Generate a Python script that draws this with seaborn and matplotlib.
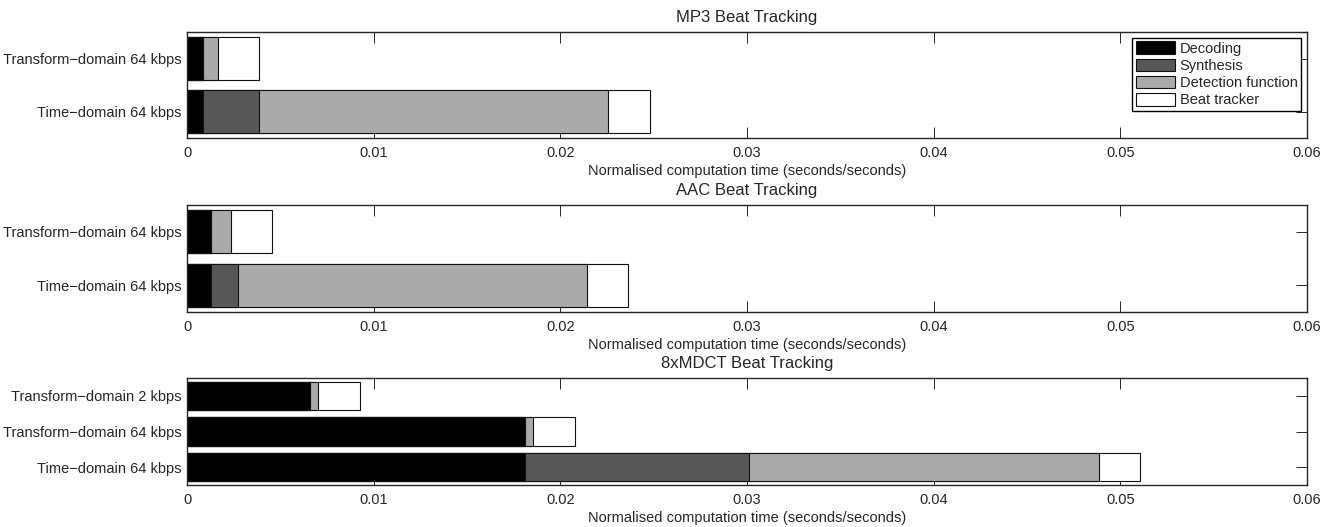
import numpy as np
import pandas as pd
import seaborn as sns
import matplotlib
matplotlib.use("Agg")
import matplotlib.pyplot as plt
from matplotlib.patches import Patch

# stages and colours
stages = ["Decoding", "Synthesis", "Detection function", "Beat tracker"]
stage_colors = ["#000000", "#575757", "#aaaaaa", "#ffffff"]

titles = ["MP3 Beat Tracking", "AAC Beat Tracking", "8xMDCT Beat Tracking"]

# categories (top to bottom)
mp3_cats = ["Transform\u2212domain 64 kbps", "Time\u2212domain 64 kbps"]
aac_cats = ["Transform\u2212domain 64 kbps", "Time\u2212domain 64 kbps"]
mdct_cats = ["Transform\u2212domain 2 kbps", "Transform\u2212domain 64 kbps", "Time\u2212domain 64 kbps"]

# per-stage times (seconds/seconds)
mp3_decoding = [0.00087, 0.00087]
mp3_synthesis = [0.0, 0.00300]
mp3_detection = [0.00081, 0.01871]
mp3_beat = [0.00219, 0.00221]

aac_decoding = [0.00127, 0.00127]
aac_synthesis = [0.0, 0.00148]
aac_detection = [0.00107, 0.01869]
aac_beat = [0.00221, 0.00221]

mdct_decoding = [0.00659, 0.01810, 0.01810]
mdct_synthesis = [0.0, 0.0, 0.01201]
mdct_detection = [0.00044, 0.00044, 0.01873]
mdct_beat = [0.00223, 0.00222, 0.00219]

panels = [
    (mp3_cats, [mp3_decoding, mp3_synthesis, mp3_detection, mp3_beat]),
    (aac_cats, [aac_decoding, aac_synthesis, aac_detection, aac_beat]),
    (mdct_cats, [mdct_decoding, mdct_synthesis, mdct_detection, mdct_beat]),
]

sns.set_style("ticks")
plt.rcParams['font.family'] = ['Liberation Sans', 'DejaVu Sans']
plt.rcParams['axes.linewidth'] = 1.0

fig = plt.figure(figsize=(13.43, 5.27), dpi=100)
left, width = 187 / 1343, 1120 / 1343
rects = [(32, 138), (205, 312), (378, 485)]

for i, ((cats, parts), (top, bot)) in enumerate(zip(panels, rects)):
    ax = fig.add_axes([left, 1 - bot / 527, width, (bot - top) / 527])
    cum = np.cumsum(np.array(parts), axis=0)
    # draw totals first, then overlay shorter cumulative bars
    for k in range(3, -1, -1):
        df = pd.DataFrame({"cat": cats, "val": cum[k]})
        sns.barplot(data=df, x="val", y="cat", order=cats, color=stage_colors[k],
                    saturation=1, edgecolor="#111111", linewidth=0.8, width=0.8,
                    orient="h", ax=ax)
    ax.set_xlim(0, 0.06)
    ax.set_xticks([0, 0.01, 0.02, 0.03, 0.04, 0.05, 0.06])
    ax.set_xticklabels(["0", "0.01", "0.02", "0.03", "0.04", "0.05", "0.06"])
    ax.set_ylim(len(cats) - 0.5, -0.5)
    ax.set_ylabel("")
    ax.set_xlabel("Normalised computation time (seconds/seconds)", fontsize=10.5, labelpad=2.5)
    ax.set_title(titles[i], fontsize=12, pad=7)
    ax.tick_params(direction="in", top=True, right=True, length=8, width=0.7,
                   labelsize=10.5)
    ax.tick_params(axis="x", pad=6)
    ax.tick_params(axis="y", pad=4)
    for s in ax.spines.values():
        s.set_visible(True)
        s.set_linewidth(1.0)
    if i == 0:
        handles = [Patch(facecolor=c, edgecolor="#111111", linewidth=0.8) for c in stage_colors]
        ax.legend(handles, stages, loc="upper right", fontsize=10.5, frameon=True,
                  fancybox=False, edgecolor="black", framealpha=1,
                  handlelength=2.7, handleheight=0.95, labelspacing=0.2,
                  borderpad=0.25, handletextpad=0.3, borderaxespad=0.4)

plt.savefig("out.png", dpi=100)
